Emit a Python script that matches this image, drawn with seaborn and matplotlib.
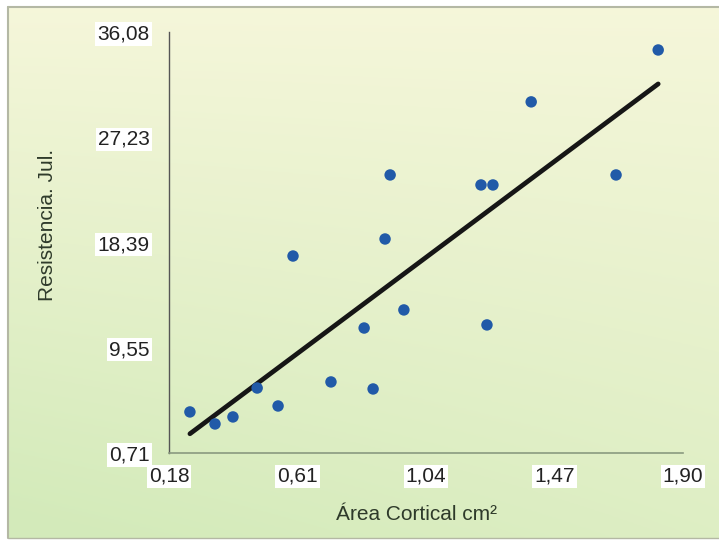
import numpy as np
import pandas as pd
import matplotlib
matplotlib.use("Agg")
import matplotlib.pyplot as plt
import seaborn as sns
from matplotlib.lines import Line2D

# values
area = [0.250, 0.334, 0.394, 0.475, 0.545, 0.595, 0.722, 0.833, 0.863,
        0.903, 0.920, 0.966, 1.224, 1.264, 1.244, 1.392, 1.676, 1.817]
resistencia = [4.16, 3.15, 3.74, 6.17, 4.66, 17.26, 6.68, 11.21, 6.09,
               18.69, 24.07, 12.73, 23.23, 23.23, 11.47, 30.21, 24.07, 34.57]
x_ticks = [0.18, 0.61, 1.04, 1.47, 1.90]
x_labels = ["0,18", "0,61", "1,04", "1,47", "1,90"]
y_ticks = [0.71, 9.55, 18.39, 27.23, 36.08]
y_labels = ["0,71", "9,55", "18,39", "27,23", "36,08"]

df = pd.DataFrame({"area": area, "resistencia": resistencia})

sns.set_theme(style="white")
plt.rcParams['font.family'] = ['Liberation Sans', 'DejaVu Sans']

W, H = 719, 543
fig = plt.figure(figsize=(W / 100, H / 100), dpi=100)
fig.patch.set_facecolor("white")

# chart area background: pale yellow at top right, greener to the bottom left
left, top_y, bot_y = 8 / W, 1 - 7 / H, 1 - 538 / H
bg = fig.add_axes([left, bot_y, 1 - left, top_y - bot_y], zorder=0)
yy, xx = np.mgrid[0:1:200j, 0:1:200j]
t = np.clip(0.7 * yy + 0.35 * (1 - xx) * yy, 0, 1)[..., None]
top = np.array([0.962, 0.966, 0.855])
bottom = np.array([0.830, 0.920, 0.730])
bg.imshow(top * (1 - t) + bottom * t, aspect="auto", extent=[0, 1, 1, 0])
bg.axis("off")
frame = "#b4b8a4"
fig.add_artist(Line2D([left, 1], [top_y, top_y], color=frame, lw=1.5))
fig.add_artist(Line2D([left, left], [bot_y, top_y], color=frame, lw=1.5))
fig.add_artist(Line2D([left, 1], [bot_y, bot_y], color=frame, lw=1.0))

ax = fig.add_axes([169 / W, 1 - 453 / H, (683 - 169) / W, (453 - 32) / H], zorder=1)
ax.patch.set_alpha(0)

sns.regplot(data=df, x="area", y="resistencia", ci=None, ax=ax,
            scatter_kws=dict(s=68, color="#215aa8", edgecolor="none", alpha=1, zorder=3),
            line_kws=dict(color="#161616", lw=3.4, zorder=2))

ax.set_xlim(0.18, 1.90)
ax.set_ylim(0.71, 36.08)
ax.set_xticks(x_ticks, x_labels)
ax.set_yticks(y_ticks, y_labels)
ax.tick_params(axis="x", labelsize=15, colors="#222222", pad=8, length=4,
               direction="inout", color="#8a9a80")
ax.tick_params(axis="y", labelsize=15, colors="#222222", pad=10, length=4,
               direction="out", color="#8a9a80")
for lab in ax.get_xticklabels() + ax.get_yticklabels():
    lab.set_bbox(dict(facecolor="white", edgecolor="none", pad=1.5))

for side in ["top", "right"]:
    ax.spines[side].set_visible(False)
ax.spines["left"].set_color("#555555")
ax.spines["left"].set_linewidth(1.0)
ax.spines["bottom"].set_color("#8a9a80")
ax.spines["bottom"].set_linewidth(1.2)

ax.set_xlabel("Área Cortical cm²", fontsize=15, color="#2e3a2a")
ax.set_ylabel("Resistencia. Jul.", fontsize=15, color="#2e3a2a")
ax.xaxis.set_label_coords(0.482, -0.147)
ax.yaxis.set_label_coords(-0.237, 0.542)
ax.xaxis.label.set_va("center")
ax.yaxis.label.set_va("center")

fig.savefig("out.png", dpi=100)
